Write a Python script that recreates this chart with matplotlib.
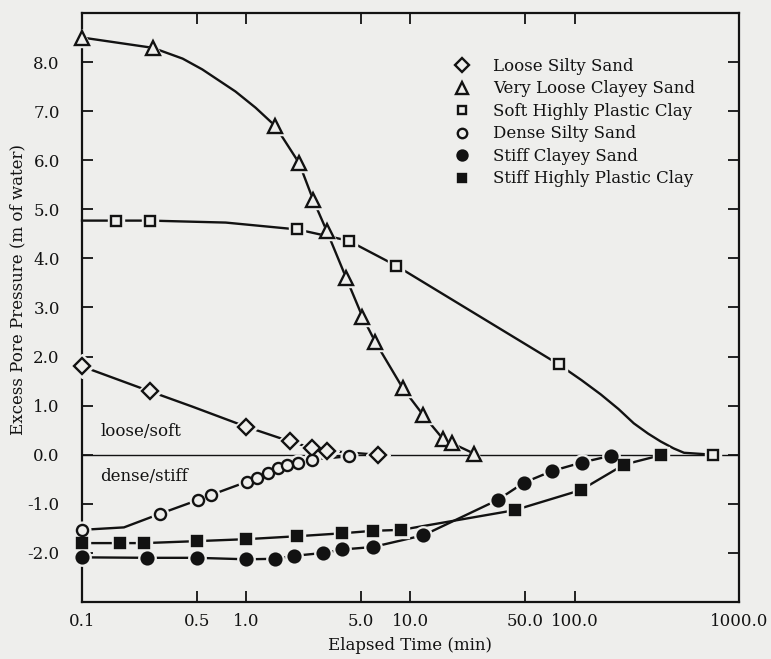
import numpy as np
import matplotlib.pyplot as plt

plt.rcParams['font.family'] = ['DejaVu Serif']

# values: elapsed time (min), excess pore pressure (m of water)
loose_silty_t = [0.1, 0.26, 1.0, 1.85, 2.5, 3.1, 6.3]
loose_silty_u = [1.80, 1.29, 0.57, 0.27, 0.14, 0.08, 0.0]

very_loose_t = [0.1, 0.27, 1.5, 2.1, 2.55, 3.1, 4.05, 5.1, 6.1, 9.0, 12.0, 15.7, 18.0, 24.5]
very_loose_u = [8.50, 8.29, 6.70, 5.94, 5.20, 4.55, 3.61, 2.81, 2.30, 1.35, 0.80, 0.33, 0.23, 0.02]

soft_clay_t = [0.16, 0.26, 2.05, 4.2, 8.2, 80.0, 700.0]
soft_clay_u = [4.77, 4.77, 4.59, 4.36, 3.85, 1.84, 0.0]

dense_silty_t = [0.1, 0.3, 0.51, 0.61, 1.01, 1.17, 1.35, 1.55, 1.78, 2.07, 2.5, 4.25]
dense_silty_u = [-1.53, -1.20, -0.92, -0.82, -0.55, -0.47, -0.38, -0.28, -0.21, -0.16, -0.10, -0.03]

stiff_sand_t = [0.1, 0.25, 0.5, 1.0, 1.5, 1.95, 2.95, 3.85, 5.9, 12.0, 34.0, 49.0, 73.0, 110.0, 166.0]
stiff_sand_u = [-2.09, -2.10, -2.10, -2.13, -2.12, -2.06, -2.00, -1.93, -1.88, -1.64, -0.92, -0.57, -0.33, -0.16, -0.02]

stiff_clay_t = [0.1, 0.17, 0.24, 0.5, 1.0, 2.05, 3.85, 5.9, 8.8, 43.0, 109.0, 200.0, 334.0]
stiff_clay_u = [-1.80, -1.80, -1.80, -1.76, -1.72, -1.66, -1.60, -1.55, -1.53, -1.13, -0.72, -0.20, -0.01]

# extra points read along the hand-drawn curves between markers
loose_silty_curve_t = [0.47]
loose_silty_curve_u = [0.98]
very_loose_curve_t = [0.41, 0.54, 0.86, 1.14]
very_loose_curve_u = [8.07, 7.85, 7.40, 7.07]
soft_clay_curve_t = [0.1, 0.75, 110.0, 144.0, 185.0, 229.0, 280.0, 334.0, 400.0, 463.0]
soft_clay_curve_u = [4.77, 4.73, 1.52, 1.23, 0.93, 0.64, 0.43, 0.27, 0.13, 0.04]
dense_silty_curve_t = [0.18]
dense_silty_curve_u = [-1.48]
stiff_clay_curve_t = []
stiff_clay_curve_u = []
stiff_sand_curve_t = []
stiff_sand_curve_u = []

xticks = [0.1, 0.5, 1, 5, 10, 50, 100, 1000]
xtick_labels = ['0.1', '0.5', '1.0', '5.0', '10.0', '50.0', '100.0', '1000.0']
yticks = [-2, -1, 0, 1, 2, 3, 4, 5, 6, 7, 8]
ytick_labels = ['-2.0', '-1.0', '0.0', '1.0', '2.0', '3.0', '4.0', '5.0', '6.0', '7.0', '8.0']

ink = '#121212'
bg = '#eeeeec'

series = [
    ('Loose Silty Sand', loose_silty_t, loose_silty_u, loose_silty_curve_t, loose_silty_curve_u, 'D', 7.8, 'none'),
    ('Very Loose Clayey Sand', very_loose_t, very_loose_u, very_loose_curve_t, very_loose_curve_u, '^', 9.5, 'none'),
    ('Soft Highly Plastic Clay', soft_clay_t, soft_clay_u, soft_clay_curve_t, soft_clay_curve_u, 's', 7.5, 'none'),
    ('Dense Silty Sand', dense_silty_t, dense_silty_u, dense_silty_curve_t, dense_silty_curve_u, 'o', 8.0, 'none'),
    ('Stiff Clayey Sand', stiff_sand_t, stiff_sand_u, stiff_sand_curve_t, stiff_sand_curve_u, 'o', 8.5, ink),
    ('Stiff Highly Plastic Clay', stiff_clay_t, stiff_clay_u, stiff_clay_curve_t, stiff_clay_curve_u, 's', 7.0, ink),
]

fig = plt.figure(figsize=(7.71, 6.59), dpi=100, facecolor=bg)
ax = fig.add_axes([0.1064, 0.0865, 0.852, 0.8938])
ax.set_facecolor(bg)

ax.axhline(0, color=ink, lw=1.0, zorder=1)

for name, t, u, ct, cu, m, ms, fc in series:
    lt = np.concatenate([t, ct])
    lu = np.concatenate([u, cu])
    order = np.argsort(lt)
    ax.plot(lt[order], lu[order], color=ink, lw=1.7, zorder=2, clip_on=False)
    # background halo so the line stops short of each marker, as in the drawing
    ax.plot(t, u, ls='none', marker=m, ms=ms + 4, mfc=bg, mec=bg, zorder=3, clip_on=False)
    mfc = bg if fc == 'none' else fc
    ax.plot(t, u, ls='none', marker=m, ms=ms, mfc=mfc, mec=ink, mew=1.7,
            zorder=4, clip_on=False, label=name)

ax.set_xscale('log')
ax.set_xlim(0.1, 1000)
ax.set_ylim(-3, 9)
ax.set_xticks(xticks)
ax.set_xticklabels(xtick_labels)
ax.xaxis.set_minor_locator(plt.NullLocator())
ax.set_yticks(yticks)
ax.set_yticklabels(ytick_labels)

ax.tick_params(axis='both', direction='in', length=8, width=1.3, top=True, right=True,
               labelsize=12, colors=ink)
ax.tick_params(axis='x', pad=8)
ax.tick_params(axis='y', pad=16)
for s in ax.spines.values():
    s.set_linewidth(1.6)
    s.set_color(ink)

ax.text(0.129, 0.47, 'loose/soft', fontsize=12, color=ink, ha='left', va='center')
ax.text(0.129, -0.45, 'dense/stiff', fontsize=12, color=ink, ha='left', va='center')

fig.text(18 / 771, 1 - 290 / 659, 'Excess Pore Pressure (m of water)', rotation=90,
         fontsize=12, color=ink, ha='center', va='center')
fig.text(410 / 771, 1 - 645 / 659, 'Elapsed Time (min)', fontsize=12, color=ink,
         ha='center', va='center')

ax.legend(loc='upper left', bbox_to_anchor=(0.566, 0.9236), frameon=False, fontsize=12,
          handlelength=1.0, handletextpad=1.33, borderpad=0, borderaxespad=0,
          labelspacing=0.33, labelcolor=ink, markerscale=0.85)

fig.savefig('out.png', dpi=100, facecolor=bg)
